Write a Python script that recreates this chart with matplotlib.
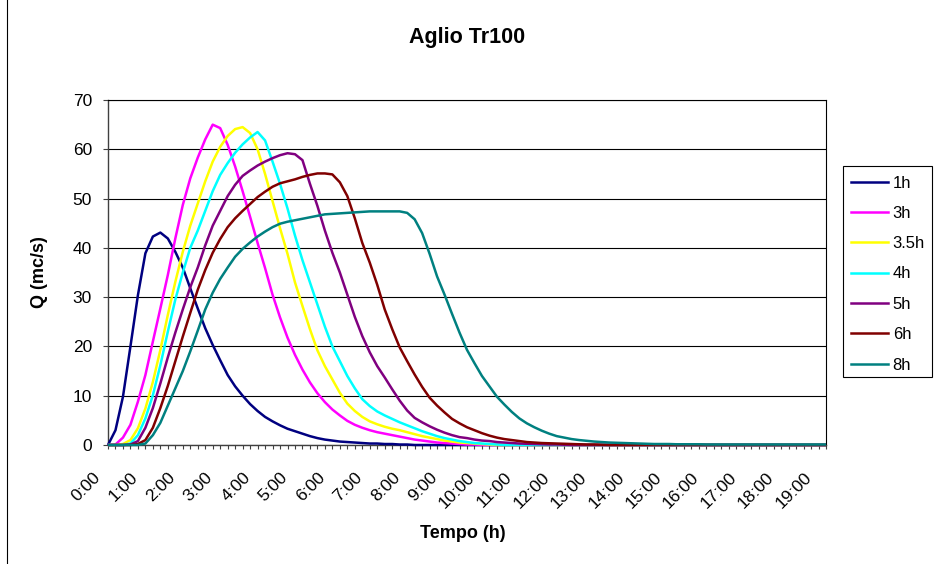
import matplotlib
matplotlib.use("Agg")
import matplotlib.pyplot as plt
import matplotlib.transforms as mtransforms
from matplotlib.ticker import MultipleLocator, FixedLocator
from matplotlib.patches import Rectangle
from matplotlib.lines import Line2D

plt.rcParams['font.family'] = ['Liberation Sans', 'DejaVu Sans']

# portate (mc/s) ogni 12 minuti, da 0:00 a 19:12
q_1h = [0.0, 3.0, 9.8, 20.0, 30.4, 38.9, 42.3, 43.1, 41.9, 39.2,
        36.0, 31.8, 27.7, 23.7, 20.3, 17.2, 14.2, 11.9, 10.0, 8.3,
        6.9, 5.7, 4.8, 4.0, 3.3, 2.8, 2.3, 1.8, 1.4, 1.1,
        0.9, 0.7, 0.6, 0.5, 0.4, 0.3, 0.3, 0.2, 0.2, 0.1,
        0.1, 0.0, 0.0, 0.0, 0.0, 0.0, 0.0, 0.0, 0.0, 0.0,
        0.0, 0.0, 0.0, 0.0, 0.0, 0.0, 0.0, 0.0, 0.0, 0.0,
        0.0, 0.0, 0.0, 0.0, 0.0, 0.0, 0.0, 0.0, 0.0, 0.0,
        0.0, 0.0, 0.0, 0.0, 0.0, 0.0, 0.0, 0.0, 0.0, 0.0,
        0.0, 0.0, 0.0, 0.0, 0.0, 0.0, 0.0, 0.0, 0.0, 0.0,
        0.0, 0.0, 0.0, 0.0, 0.0, 0.0, 0.0]
q_3h = [0.0, 0.1, 1.5, 4.1, 8.8, 14.2, 21.0, 27.7, 34.5, 41.9,
        48.7, 54.1, 58.3, 62.0, 65.0, 64.3, 60.9, 56.5, 51.5, 46.3,
        41.0, 35.9, 30.5, 25.9, 21.8, 18.3, 15.3, 12.7, 10.5, 8.7,
        7.2, 6.0, 4.9, 4.1, 3.5, 3.0, 2.6, 2.3, 2.0, 1.7,
        1.4, 1.1, 0.9, 0.7, 0.5, 0.4, 0.3, 0.2, 0.1, 0.1,
        0.0, 0.0, 0.0, 0.0, 0.0, 0.0, 0.0, 0.0, 0.0, 0.0,
        0.0, 0.0, 0.0, 0.0, 0.0, 0.0, 0.0, 0.0, 0.0, 0.0,
        0.0, 0.0, 0.0, 0.0, 0.0, 0.0, 0.0, 0.0, 0.0, 0.0,
        0.0, 0.0, 0.0, 0.0, 0.0, 0.0, 0.0, 0.0, 0.0, 0.0,
        0.0, 0.0, 0.0, 0.0, 0.0, 0.0, 0.0]
q_35h = [0.0, 0.0, 0.2, 1.0, 3.4, 7.4, 12.8, 19.3, 26.4, 33.1,
         39.2, 44.5, 49.0, 53.5, 57.5, 60.5, 62.7, 64.1, 64.5, 63.3,
         60.0, 55.0, 49.5, 44.0, 38.8, 33.0, 28.2, 23.5, 19.2, 16.0,
         13.3, 10.6, 8.4, 6.9, 5.7, 4.8, 4.2, 3.7, 3.3, 3.0,
         2.6, 2.2, 1.8, 1.5, 1.2, 0.9, 0.7, 0.5, 0.4, 0.3,
         0.2, 0.1, 0.0, 0.0, 0.0, 0.0, 0.0, 0.0, 0.0, 0.0,
         0.0, 0.0, 0.0, 0.0, 0.0, 0.0, 0.0, 0.0, 0.0, 0.0,
         0.0, 0.0, 0.0, 0.0, 0.0, 0.0, 0.0, 0.0, 0.0, 0.0,
         0.0, 0.0, 0.0, 0.0, 0.0, 0.0, 0.0, 0.0, 0.0, 0.0,
         0.0, 0.0, 0.0, 0.0, 0.0, 0.0, 0.0]
q_4h = [0.0, 0.0, 0.0, 0.3, 2.0, 5.4, 10.1, 16.2, 23.0, 29.5,
        35.0, 40.0, 43.5, 47.5, 51.5, 54.8, 57.2, 59.3, 61.0, 62.4,
        63.5, 61.8, 57.5, 53.0, 48.0, 42.5, 37.5, 33.0, 28.5, 24.0,
        20.0, 17.0, 14.0, 11.5, 9.3, 7.9, 6.8, 6.0, 5.3, 4.6,
        4.0, 3.4, 2.8, 2.3, 1.8, 1.4, 1.1, 0.8, 0.6, 0.4,
        0.3, 0.2, 0.1, 0.0, 0.0, 0.0, 0.0, 0.0, 0.0, 0.0,
        0.0, 0.0, 0.0, 0.0, 0.0, 0.0, 0.0, 0.0, 0.0, 0.0,
        0.0, 0.0, 0.0, 0.0, 0.0, 0.0, 0.0, 0.0, 0.0, 0.0,
        0.0, 0.0, 0.0, 0.0, 0.0, 0.0, 0.0, 0.0, 0.0, 0.0,
        0.0, 0.0, 0.0, 0.0, 0.0, 0.0, 0.0]
q_5h = [0.0, 0.0, 0.0, 0.1, 0.8, 3.5, 7.5, 12.5, 17.8, 22.8,
        27.5, 32.0, 36.0, 40.5, 44.5, 47.5, 50.5, 52.8, 54.6, 55.7,
        56.7, 57.5, 58.2, 58.8, 59.2, 59.0, 57.8, 53.0, 48.5, 43.5,
        39.0, 35.0, 30.5, 26.0, 22.1, 18.8, 16.0, 13.7, 11.3, 9.0,
        7.0, 5.5, 4.6, 3.8, 3.1, 2.5, 2.0, 1.6, 1.4, 1.1,
        0.9, 0.8, 0.6, 0.5, 0.4, 0.3, 0.25, 0.2, 0.15, 0.1,
        0.1, 0.05, 0.0, 0.0, 0.0, 0.0, 0.0, 0.0, 0.0, 0.0,
        0.0, 0.0, 0.0, 0.0, 0.0, 0.0, 0.0, 0.0, 0.0, 0.0,
        0.0, 0.0, 0.0, 0.0, 0.0, 0.0, 0.0, 0.0, 0.0, 0.0,
        0.0, 0.0, 0.0, 0.0, 0.0, 0.0, 0.0]
q_6h = [0.0, 0.0, 0.0, 0.0, 0.2, 1.0, 3.5, 7.5, 12.0, 17.0,
        22.0, 26.8, 31.5, 35.5, 39.0, 41.8, 44.2, 46.0, 47.5, 48.9,
        50.3, 51.4, 52.4, 53.1, 53.5, 53.9, 54.4, 54.8, 55.1, 55.1,
        54.9, 53.3, 50.5, 46.0, 41.0, 37.0, 32.5, 27.5, 23.5, 19.8,
        17.0, 14.3, 11.8, 9.6, 8.0, 6.6, 5.3, 4.4, 3.6, 3.0,
        2.4, 1.9, 1.5, 1.2, 1.0, 0.8, 0.6, 0.5, 0.4, 0.35,
        0.3, 0.25, 0.2, 0.15, 0.1, 0.1, 0.05, 0.0, 0.0, 0.0,
        0.0, 0.0, 0.0, 0.0, 0.0, 0.0, 0.0, 0.0, 0.0, 0.0,
        0.0, 0.0, 0.0, 0.0, 0.0, 0.0, 0.0, 0.0, 0.0, 0.0,
        0.0, 0.0, 0.0, 0.0, 0.0, 0.0, 0.0]
q_8h = [0.0, 0.0, 0.0, 0.0, 0.0, 0.3, 2.0, 4.5, 8.0, 11.5,
        15.0, 19.0, 23.2, 27.5, 30.9, 33.7, 36.0, 38.2, 39.8, 41.1,
        42.3, 43.3, 44.2, 44.9, 45.3, 45.6, 45.9, 46.2, 46.5, 46.8,
        46.9, 47.0, 47.1, 47.2, 47.3, 47.4, 47.4, 47.4, 47.4, 47.4,
        47.1, 45.8, 43.0, 38.8, 34.2, 30.5, 26.6, 22.8, 19.3, 16.6,
        14.0, 11.9, 9.8, 8.2, 6.7, 5.4, 4.4, 3.6, 2.9, 2.3,
        1.8, 1.5, 1.2, 1.0, 0.85, 0.7, 0.6, 0.5, 0.45, 0.4,
        0.35, 0.3, 0.25, 0.2, 0.2, 0.2, 0.15, 0.15, 0.15, 0.15,
        0.1, 0.1, 0.1, 0.1, 0.1, 0.1, 0.1, 0.1, 0.1, 0.1,
        0.1, 0.1, 0.1, 0.1, 0.1, 0.1, 0.1]

labels = ["1h", "3h", "3.5h", "4h", "5h", "6h", "8h"]
series = [q_1h, q_3h, q_35h, q_4h, q_5h, q_6h, q_8h]
colors = ["#000080", "#FF00FF", "#FFFF00", "#00FFFF", "#800080", "#800000", "#008080"]

hour_labels = ["0:00", "1:00", "2:00", "3:00", "4:00", "5:00", "6:00", "7:00",
               "8:00", "9:00", "10:00", "11:00", "12:00", "13:00", "14:00",
               "15:00", "16:00", "17:00", "18:00", "19:00"]
steps_per_hour = 5

W, H = 934, 564
fig = plt.figure(figsize=(W / 100, H / 100), dpi=100)
fig.patch.set_facecolor("white")

# bordo dell'area grafico (solo il lato sinistro e' visibile)
fig.patches.append(Rectangle((7 / W, -0.05), 1.2, 1.2, transform=fig.transFigure,
                             fill=False, edgecolor="black", lw=0.8))

ax = fig.add_axes([108 / W, 1 - 445 / H, (826 - 108) / W, (445 - 100) / H])

n = len(q_1h)
x = list(range(n))
for lab, q, c in zip(labels, series, colors):
    ax.plot(x, q, color=c, lw=1.8, label=lab, clip_on=False, zorder=3,
            solid_joinstyle="round", solid_capstyle="butt")

ax.set_xlim(0, n - 1)
ax.set_ylim(0, 70)
ax.yaxis.set_major_locator(MultipleLocator(10))
ax.grid(axis="y", color="black", lw=0.8)
ax.set_axisbelow(True)

ax.xaxis.set_major_locator(FixedLocator([i * steps_per_hour for i in range(len(hour_labels))]))
ax.xaxis.set_minor_locator(MultipleLocator(1))
ax.set_xticklabels(hour_labels, rotation=45, ha="right", va="top", rotation_mode="anchor")
ax.tick_params(axis="x", which="both", length=3, width=0.8, color="#404040",
               labelsize=12.5, pad=15)
ax.tick_params(axis="y", length=3.5, width=0.8, color="#404040", labelsize=12.5, pad=8)

offset = mtransforms.ScaledTranslation(-15 / 100, 0, fig.dpi_scale_trans)
for lbl in ax.get_xticklabels():
    lbl.set_transform(lbl.get_transform() + offset)

for side in ["top", "right"]:
    ax.spines[side].set_color("black")
    ax.spines[side].set_linewidth(0.8)
for side in ["left", "bottom"]:
    ax.spines[side].set_color("#404040")
    ax.spines[side].set_linewidth(1.0)

fig.text(467 / W, 1 - 38 / H, "Aglio Tr100", ha="center", va="center",
         fontsize=15.5, fontweight="bold")
fig.text(40 / W, 1 - 272 / H, "Q (mc/s)", ha="center", va="center",
         rotation=90, fontsize=13, fontweight="bold")
fig.text(463 / W, 1 - 533 / H, "Tempo (h)", ha="center", va="center",
         fontsize=13, fontweight="bold")

# legenda
fig.patches.append(Rectangle((843 / W, 1 - 377 / H), (932 - 843) / W, (377 - 166) / H,
                             transform=fig.transFigure, fill=False,
                             edgecolor="black", lw=0.8))
handles = [Line2D([], [], color=c, lw=1.8) for c in colors]
fig.legend(handles, labels, loc="upper left", bbox_to_anchor=(851 / W, 1 - 175.5 / H),
           frameon=False, fontsize=12, handlelength=2.2, handletextpad=0.3,
           labelspacing=0.92, borderpad=0, borderaxespad=0)

fig.savefig("out.png", dpi=100)
